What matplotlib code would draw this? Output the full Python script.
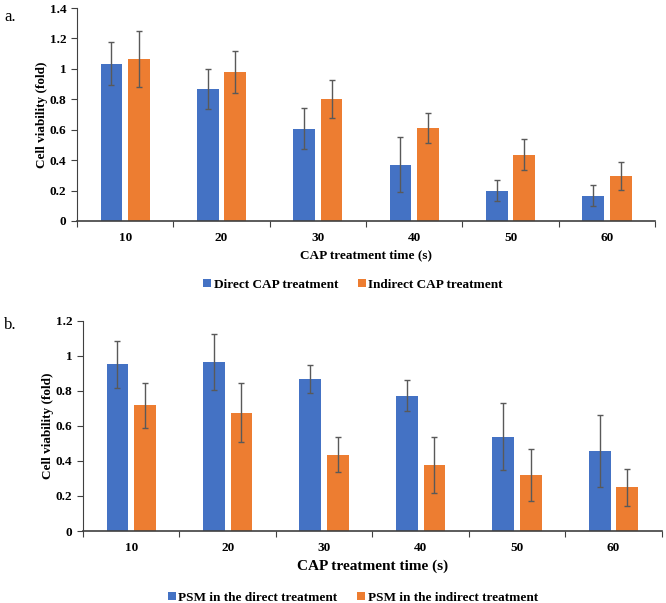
import numpy as np
import matplotlib.pyplot as plt

# data
times = ["10", "20", "30", "40", "50", "60"]

direct_a = [1.034, 0.867, 0.608, 0.371, 0.200, 0.167]
direct_a_err = [0.14, 0.13, 0.135, 0.18, 0.07, 0.068]
indirect_a = [1.064, 0.979, 0.803, 0.610, 0.437, 0.296]
indirect_a_err = [0.185, 0.136, 0.124, 0.10, 0.103, 0.094]

psm_direct = [0.953, 0.968, 0.870, 0.773, 0.539, 0.456]
psm_direct_err = [0.135, 0.16, 0.079, 0.087, 0.19, 0.205]
psm_indirect = [0.718, 0.676, 0.435, 0.376, 0.321, 0.249]
psm_indirect_err = [0.13, 0.167, 0.10, 0.16, 0.15, 0.105]

BLUE = "#4472C4"
ORANGE = "#ED7D31"
FONT = "Liberation Serif"

plt.rcParams["font.family"] = FONT


def draw(ax, s1, e1, s2, e2, ymax, lbl1, lbl2, legend_y, fig, xfs):
    x = np.arange(len(times))
    w = 0.225
    off = 0.143
    ekw = dict(ecolor="#595959", elinewidth=1.0, capsize=2.5, capthick=1.0)
    b1 = ax.bar(x - off, s1, w, yerr=e1, color=BLUE, label=lbl1, error_kw=ekw)
    b2 = ax.bar(x + off, s2, w, yerr=e2, color=ORANGE, label=lbl2, error_kw=ekw)
    ax.set_xlim(-0.5, len(times) - 0.5)
    ax.set_ylim(0, ymax)
    ax.set_yticks(np.arange(0, ymax + 0.01, 0.2))
    ax.set_yticklabels(["0" if v == 0 else ("1" if abs(v - 1) < 1e-9 else f"{v:.1f}")
                        for v in np.arange(0, ymax + 0.01, 0.2)])
    # category boundaries get the tick marks, labels sit in the middle
    ax.set_xticks(np.arange(-0.5, len(times), 1.0))
    ax.set_xticklabels([])
    ax.set_xticks(x, minor=True)
    ax.set_xticklabels(times, minor=True)
    ax.tick_params(axis="x", which="minor", length=0, pad=8)
    ax.tick_params(axis="x", which="major", length=4, direction="out", color="#404040")
    ax.tick_params(axis="y", length=4, direction="out", color="#404040")
    for lab in ax.get_xticklabels(minor=True) + ax.get_yticklabels():
        lab.set_fontweight("bold")
        lab.set_fontsize(9.5)
    for s in ["top", "right"]:
        ax.spines[s].set_visible(False)
    ax.spines["left"].set_color("#404040")
    ax.spines["bottom"].set_color("#404040")
    ax.spines["bottom"].set_linewidth(1.2)
    ax.set_xlabel("CAP treatment time (s)", fontweight="bold", fontsize=xfs, labelpad=4)
    ax.set_ylabel("Cell viability (fold)", fontweight="bold", fontsize=9.5, labelpad=1)
    fig.legend(handles=[b1, b2], labels=[lbl1, lbl2], loc="center",
               bbox_to_anchor=(0.53, legend_y), ncol=2, frameon=False,
               prop=dict(family=FONT, weight="bold", size=9.5),
               handlelength=0.6, handleheight=0.6, handletextpad=0.2, columnspacing=1.5)


fig = plt.figure(figsize=(6.66, 6.03), dpi=100)
ax1 = fig.add_axes([0.1156, 0.6335, 0.868, 0.3532])
ax2 = fig.add_axes([0.1246, 0.1194, 0.869, 0.3483])

draw(ax1, direct_a, direct_a_err, indirect_a, indirect_a_err, 1.4,
     "Direct CAP treatment", "Indirect CAP treatment", 0.528, fig, 9.5)
draw(ax2, psm_direct, psm_direct_err, psm_indirect, psm_indirect_err, 1.2,
     "PSM in the direct treatment", "PSM in the indirect treatment", 0.009, fig, 11)

fig.text(0.006, 0.985, "a.", fontsize=12, va="top", ha="left")
fig.text(0.006, 0.475, "b.", fontsize=12, va="top", ha="left")

fig.savefig("out.png", dpi=100)
